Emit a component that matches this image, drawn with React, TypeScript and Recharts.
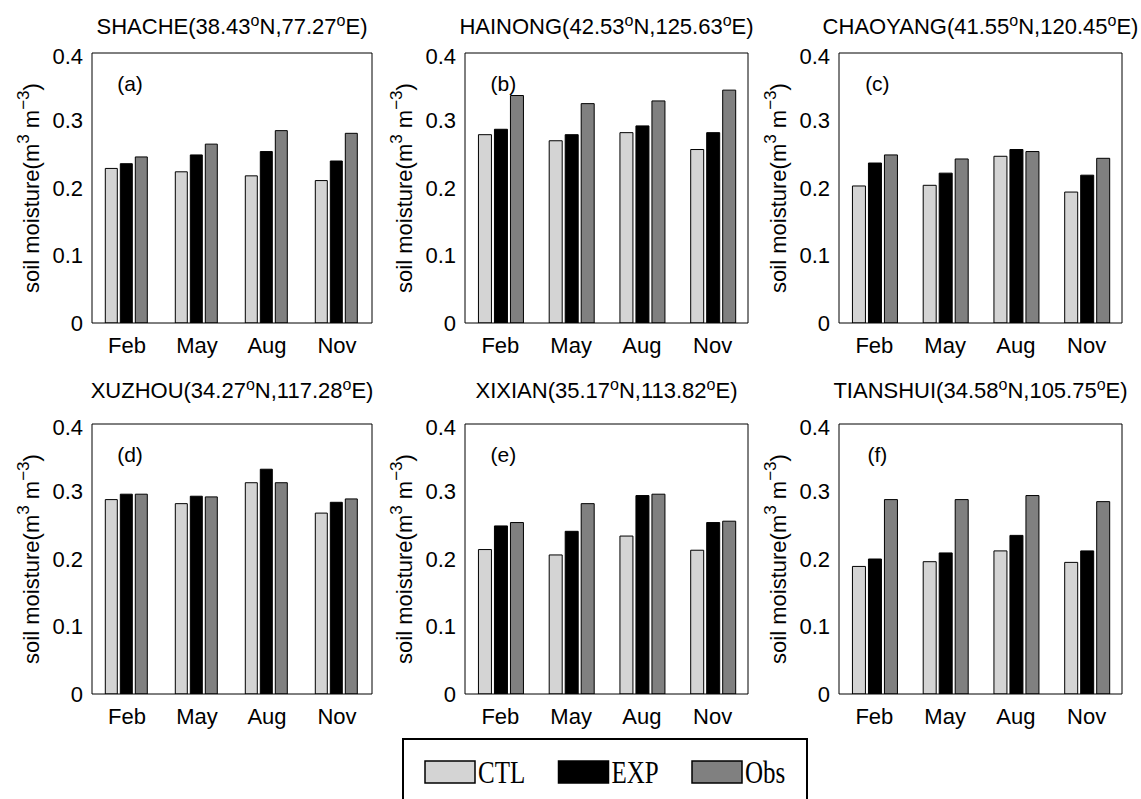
import { BarChart, Bar, XAxis, YAxis, ReferenceDot } from "recharts";

const months = ["Feb", "May", "Aug", "Nov"];
const yTicks = [0, 0.1, 0.2, 0.3, 0.4];

const stations = ["SHACHE", "HAINONG", "CHAOYANG", "XUZHOU", "XIXIAN", "TIANSHUI"];
const lats = ["38.43", "42.53", "41.55", "34.27", "35.17", "34.58"];
const lons = ["77.27", "125.63", "120.45", "117.28", "113.82", "105.75"];
const tags = ["(a)", "(b)", "(c)", "(d)", "(e)", "(f)"];

// one row per station, one value per month
const ctl = [
  [0.229, 0.224, 0.218, 0.211],
  [0.279, 0.270, 0.282, 0.257],
  [0.203, 0.204, 0.247, 0.194],
  [0.288, 0.282, 0.313, 0.268],
  [0.214, 0.206, 0.234, 0.213],
  [0.189, 0.196, 0.212, 0.195],
];
const exp = [
  [0.236, 0.249, 0.254, 0.240],
  [0.287, 0.279, 0.292, 0.282],
  [0.237, 0.222, 0.257, 0.219],
  [0.296, 0.293, 0.333, 0.284],
  [0.249, 0.241, 0.294, 0.254],
  [0.200, 0.209, 0.235, 0.212],
];
const obs = [
  [0.246, 0.265, 0.285, 0.281],
  [0.337, 0.325, 0.329, 0.345],
  [0.249, 0.243, 0.254, 0.244],
  [0.296, 0.292, 0.313, 0.289],
  [0.254, 0.282, 0.296, 0.256],
  [0.288, 0.288, 0.294, 0.285],
];

const seriesNames = ["CTL", "EXP", "Obs"];
const seriesKeys = ["ctl", "exp", "obs"];
const seriesColors = ["#d4d4d4", "#000000", "#808080"];

const FONT = "'Liberation Sans', Arial, Helvetica, sans-serif";
const plotLefts = [92, 465, 839];
const plotWidths = [280, 283, 283];
const plotTops = [53, 424];
const titleTops = [16, 380];
const PLOT_H = 270;
const AXIS_W = 88;

function YLabel(props: any) {
  const vb = props.viewBox || {};
  const bx = vb.x + vb.width - 53;
  const cy = vb.y + vb.height / 2;
  return (
    <text
      transform={`translate(${bx},${cy}) rotate(-90)`}
      textAnchor="middle"
      fontFamily={FONT}
      fontSize={22}
      fill="#000"
    >
      soil moisture(m
      <tspan dy={-10} fontSize={17}>3</tspan>
      <tspan dy={10}> m</tspan>
      <tspan dy={-10} fontSize={17}>−3</tspan>
      <tspan dy={10}>)</tspan>
    </text>
  );
}

function Panel({ idx }: { idx: number }) {
  const col = idx % 3;
  const row = Math.floor(idx / 3);
  const data = months.map((m, j) => ({
    month: m,
    ctl: ctl[idx][j],
    exp: exp[idx][j],
    obs: obs[idx][j],
  }));
  const plotW = plotWidths[col];
  const left = plotLefts[col] - AXIS_W;
  const top = plotTops[row] - 10;
  const width = plotW + AXIS_W + 10;
  const height = PLOT_H + 10 + 40;
  const tickStyle = { fill: "#000", fontSize: 22, fontFamily: FONT };

  return (
    <>
      <div
        style={{
          position: "absolute",
          left: plotLefts[col] - 40,
          width: plotW + 80,
          top: titleTops[row],
          textAlign: "center",
          fontFamily: FONT,
          fontSize: 22,
          lineHeight: "22px",
          whiteSpace: "nowrap",
        }}
      >
        {stations[idx]}({lats[idx]}
        <sup style={{ fontSize: 16, lineHeight: 0 }}>o</sup>N,{lons[idx]}
        <sup style={{ fontSize: 16, lineHeight: 0 }}>o</sup>E)
      </div>
      <div style={{ position: "absolute", left, top }}>
        <BarChart
          width={width}
          height={height}
          data={data}
          margin={{ top: 10, right: 10, bottom: 0, left: 0 }}
          barCategoryGap="19%"
          barGap={3}
          style={{ overflow: "visible" }}
        >
          <XAxis
            dataKey="month"
            height={40}
            tickLine={false}
            tickSize={0}
            tickMargin={14}
            axisLine={{ stroke: "#000", strokeWidth: 1 }}
            tick={tickStyle}
            interval={0}
          />
          <XAxis
            xAxisId="top"
            dataKey="month"
            orientation="top"
            mirror
            tick={false}
            tickSize={5}
            tickLine={{ stroke: "#000" }}
            axisLine={{ stroke: "#000", strokeWidth: 1 }}
          />
          <YAxis
            width={AXIS_W}
            domain={[0, 0.4]}
            ticks={yTicks}
            allowDataOverflow
            tickLine={false}
            tickSize={0}
            tickMargin={9}
            axisLine={{ stroke: "#000", strokeWidth: 1 }}
            tick={tickStyle}
            label={<YLabel />}
          />
          <YAxis
            yAxisId="lm"
            orientation="left"
            mirror
            domain={[0, 0.4]}
            ticks={yTicks}
            allowDataOverflow
            tick={false}
            tickSize={5}
            tickLine={{ stroke: "#000" }}
            axisLine={false}
          />
          <YAxis
            yAxisId="r"
            orientation="right"
            mirror
            domain={[0, 0.4]}
            ticks={yTicks}
            allowDataOverflow
            tick={false}
            tickSize={5}
            tickLine={{ stroke: "#000" }}
            axisLine={{ stroke: "#000", strokeWidth: 1 }}
          />
          {seriesKeys.map((k, s) => (
            <Bar
              key={k}
              dataKey={k}
              name={seriesNames[s]}
              fill={seriesColors[s]}
              stroke="#000"
              strokeWidth={1}
              isAnimationActive={false}
            />
          ))}
          <ReferenceDot
            x="Feb"
            y={0.355}
            r={1}
            fill="none"
            stroke="none"
            label={{ value: tags[idx], position: "center", dx: 3, fill: "#000", fontSize: 21, fontFamily: FONT }}
          />
        </BarChart>
      </div>
    </>
  );
}

function LegendBox() {
  return (
    <svg
      width={406}
      height={61}
      style={{ position: "absolute", left: 402, top: 738 }}
    >
      <rect x={1} y={1} width={404} height={120} fill="#fff" stroke="#000" strokeWidth={2} />
      {seriesNames.map((name, i) => {
        const x = 23 + i * 133.5;
        return (
          <g key={name}>
            <rect x={x} y={23} width={50} height={22} fill={seriesColors[i]} stroke="#000" strokeWidth={1.5} />
            <text
              transform={`translate(${x + 53},45) scale(1,1.25)`}
              fontFamily="'Liberation Serif', 'Times New Roman', serif"
              fontSize={25}
              fill="#000"
            >
              {name}
            </text>
          </g>
        );
      })}
    </svg>
  );
}

export default function App() {
  return (
    <div
      style={{
        position: "absolute",
        left: 0,
        top: 0,
        width: 1141,
        height: 799,
        overflow: "hidden",
        background: "#fff",
      }}
    >
      {stations.map((_, i) => (
        <Panel key={i} idx={i} />
      ))}
      <LegendBox />
    </div>
  );
}
